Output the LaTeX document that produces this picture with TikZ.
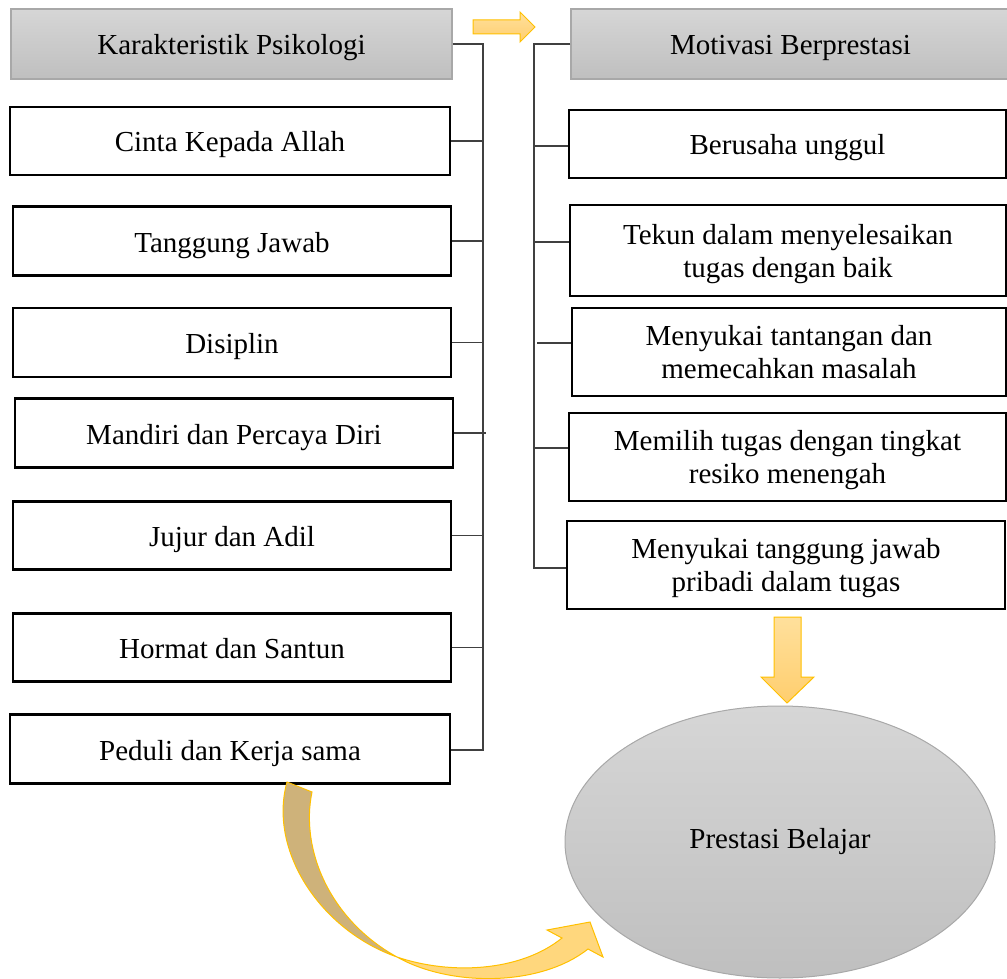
\documentclass[tikz,border=0pt]{standalone}
\usepackage{fontspec}
\setmainfont{Liberation Serif}
\usetikzlibrary{shapes.geometric}
\definecolor{hdrTop}{RGB}{214,214,214}
\definecolor{hdrBot}{RGB}{191,191,191}
\definecolor{hdrLine}{RGB}{168,168,168}
\definecolor{yTop}{RGB}{255,224,156}
\definecolor{yBot}{RGB}{255,206,110}
\definecolor{yLine}{RGB}{255,192,0}
\definecolor{yFlat}{RGB}{255,215,125}
\definecolor{tan}{RGB}{206,178,122}
\definecolor{conn}{RGB}{64,64,64}
\tikzset{
  txt/.style={font=\fontsize{29}{33}\selectfont, align=center, inner sep=0pt},
  one/.style={text height=22pt, text depth=0pt},
  two/.style={text depth=0pt},
  pbox/.style={txt, draw=black, line width=2.5pt, fill=white, rectangle},
  hbox/.style={txt, one, draw=hdrLine, line width=1.3pt, top color=hdrTop, bottom color=hdrBot, rectangle},
  oval/.style={txt, ellipse, draw=hdrLine, line width=1pt, top color=hdrTop, bottom color=hdrBot},
  link/.style={draw=conn, line width=1.3pt},
  yarrow/.style={draw=yLine, line width=1pt, top color=yTop, bottom color=yBot, line join=miter},
}
\begin{document}
\begin{tikzpicture}[x=1pt,y=-1pt]
\useasboundingbox (0,0) rectangle (1007,979);
% left column
\node[hbox, minimum width=441pt, minimum height=70pt] (hdrL) at (231.5,44) {Karakteristik Psikologi};
\node[pbox, one, minimum width=440pt, minimum height=68pt] (cinta) at (230,141) {Cinta Kepada Allah};
\node[pbox, one, minimum width=438pt, minimum height=69pt] (tang) at (232,241) {Tanggung Jawab};
\node[pbox, one, minimum width=438pt, minimum height=69pt] (disi) at (232,342.5) {Disiplin};
\node[pbox, one, minimum width=438pt, minimum height=69pt] (mand) at (234,433) {Mandiri dan Percaya Diri};
\node[pbox, one, minimum width=438pt, minimum height=68pt] (juju) at (232,535.5) {Jujur dan Adil};
\node[pbox, one, minimum width=438pt, minimum height=68pt] (horm) at (232,647.5) {Hormat dan Santun};
\node[pbox, one, minimum width=440pt, minimum height=69pt] (pedu) at (230,749) {Peduli dan Kerja sama};
% right column
\node[hbox, minimum width=439pt, minimum height=70pt] (hdrR) at (790.5,44) {Motivasi Berprestasi};
\node[pbox, one, minimum width=437pt, minimum height=68pt] (beru) at (787.5,144) {Berusaha unggul};
\node[pbox, two, minimum width=436pt, minimum height=91pt] (teku) at (788,250.5) {Tekun dalam menyelesaikan\\tugas dengan baik};
\node[pbox, two, minimum width=434pt, minimum height=88pt] (tant) at (789,352) {Menyukai tantangan dan\\memecahkan masalah};
\node[pbox, two, minimum width=437pt, minimum height=88pt] (memi) at (787.5,457) {Memilih tugas dengan tingkat\\resiko menengah};
\node[pbox, two, minimum width=438pt, minimum height=88pt] (tjaw) at (786,565) {Menyukai tanggung jawab\\pribadi dalam tugas};
% ellipse
\node[oval, minimum width=430pt, minimum height=272pt] (pres) at (780,842) {\raisebox{6pt}{Prestasi Belajar}};
% left bus
\coordinate (lbusT) at (483,44);
\coordinate (lbusB) at (483,750);
\draw[link] (hdrL.east) -- (lbusT) -- (lbusB) -- (pedu.east |- lbusB);
\foreach \n in {cinta,tang,disi,juju,horm}{
  \draw[link] (\n.east) -- (\n.east -| lbusT);
}
\draw[link] (mand.east) -- ([xshift=3pt]mand.east -| lbusT);
% right bus
\coordinate (rbusT) at (534,44);
\coordinate (rbusB) at (534,568);
\draw[link] (hdrR.west) -- (rbusT) -- (rbusB) -- (tjaw.west |- rbusB);
\path ([yshift=-2pt]beru.west) coordinate (bw)
      ([yshift=8.5pt]teku.west) coordinate (tw)
      ([yshift=9pt]tant.west) coordinate (aw)
      ([yshift=9pt]memi.west) coordinate (mw);
\draw[link] (bw) -- (bw -| rbusT);
\draw[link] (tw) -- (tw -| rbusT);
\draw[link] (aw) -- ([xshift=3pt]aw -| rbusT);
\draw[link] (mw) -- (mw -| rbusT);
% top right arrow
\draw[yarrow] (473,20) -- (520,20) -- (520,12) -- (535,27) -- (520,42) -- (520,34) -- (473,34) -- cycle;
% down arrow
\draw[yarrow] (774,617) -- (801,617) -- (801,677) -- (814,677) -- (787,703) -- (761,677) -- (774,677) -- cycle;
% curved arrow: back (tan) part
\draw[draw=yLine, line width=1pt, fill=tan] (287,782) -- (312,792)
  .. controls (300,850) and (330,920) .. (397,957)
  .. controls (320,930) and (268,850) .. (287,782) -- cycle;
% curved arrow: front (yellow) part
\draw[draw=yLine, line width=1pt, fill=yFlat, line join=miter] (397,957)
  .. controls (450,987) and (540,987) .. (588,949)
  -- (603,957) -- (590,922) -- (547,930) -- (562,938)
  .. controls (520,972) and (450,975) .. (397,957) -- cycle;
\end{tikzpicture}
\end{document}
